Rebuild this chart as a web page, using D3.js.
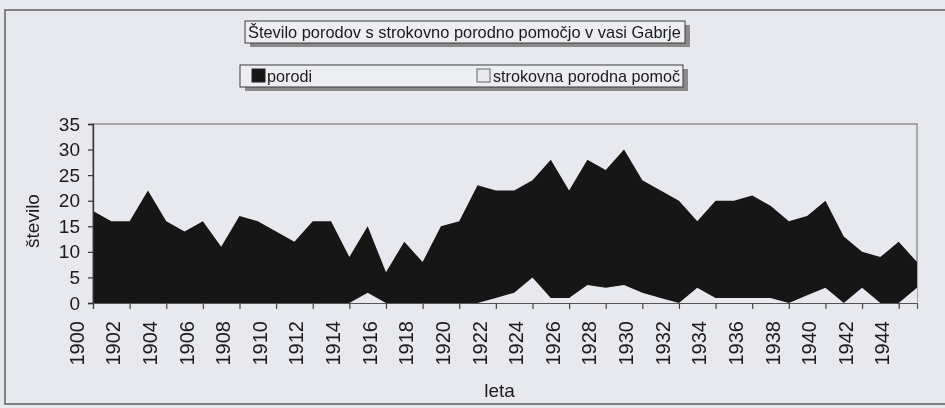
<!DOCTYPE html>
<html>
<head>
<meta charset="utf-8">
<script src="https://cdn.jsdelivr.net/npm/d3@7/dist/d3.min.js"></script>
<style>
  html, body { margin: 0; padding: 0; background: #e7e9ee; }
  svg { display: block; }
  text { font-family: "Liberation Sans", Arial, sans-serif; fill: #1a1a1a; }
</style>
</head>
<body>
<svg id="chart" width="945" height="408"></svg>
<script>
// Leta (categories)
const years = [1900, 1901, 1902, 1903, 1904, 1905, 1906, 1907, 1908, 1909,
               1910, 1911, 1912, 1913, 1914, 1915, 1916, 1917, 1918, 1919,
               1920, 1921, 1922, 1923, 1924, 1925, 1926, 1927, 1928, 1929,
               1930, 1931, 1932, 1933, 1934, 1935, 1936, 1937, 1938, 1939,
               1940, 1941, 1942, 1943, 1944, 1945];

// Število porodov na leto
const porodi = [18, 16, 16, 22, 16, 14, 16, 11, 17, 16,
                14, 12, 16, 16, 9, 15, 6, 12, 8, 15,
                16, 23, 22, 22, 24, 28, 22, 28, 26, 30,
                24, 22, 20, 16, 20, 20, 21, 19, 16, 17,
                20, 13, 10, 9, 12, 8];

// Porodi s strokovno porodno pomočjo
const strokovna = [0, 0, 0, 0, 0, 0, 0, 0, 0, 0,
                   0, 0, 0, 0, 0, 2, 0, 0, 0, 0,
                   0, 0, 1, 2, 5, 1, 1, 3.5, 3, 3.5,
                   2, 1, 0, 3, 1, 1, 1, 1, 0, 1.5,
                   3, 0, 3, 0, 0, 3];

// Oznake na oseh
const xTickYears = [1900, 1902, 1904, 1906, 1908, 1910, 1912, 1914, 1916, 1918, 1920,
                    1922, 1924, 1926, 1928, 1930, 1932, 1934, 1936, 1938, 1940, 1942, 1944];
const yTicks = [0, 5, 10, 15, 20, 25, 30, 35];

const titleText = "Število porodov s strokovno porodno pomočjo v vasi Gabrje";
const seriesNames = ["porodi", "strokovna porodna pomoč"];
const xTitle = "leta";
const yTitle = "število";

const BG = "#e7e9ee";
const DARK = "#141414";

const svg = d3.select("#chart");

// soft edges of a printed page
const defs = svg.append("defs");
defs.append("filter").attr("id", "soft")
  .append("feGaussianBlur").attr("stdDeviation", 0.55);

const root = svg.append("g").attr("filter", "url(#soft)");

root.append("rect").attr("x", 0).attr("y", 0).attr("width", 945).attr("height", 408).attr("fill", BG);

// outer frame of the figure
root.append("rect")
  .attr("x", 5).attr("y", 10).attr("width", 960).attr("height", 394)
  .attr("fill", "none").attr("stroke", "#6a6a6a").attr("stroke-width", 1.6);

const x = d3.scaleLinear().domain([1900, 1945]).range([93, 917]);
const y = d3.scaleLinear().domain([0, 35]).range([303, 124]);

// plot frame
root.append("rect")
  .attr("x", x(1900)).attr("y", y(35))
  .attr("width", x(1945) - x(1900)).attr("height", y(0) - y(35))
  .attr("fill", "none").attr("stroke", "#7d7d7d").attr("stroke-width", 1.2);

const area = (vals) => d3.area()
  .x((d, i) => x(years[i]))
  .y0(y(0))
  .y1((d) => y(d))(vals);

root.append("path").attr("d", area(porodi)).attr("fill", DARK);
root.append("path").attr("d", area(strokovna)).attr("fill", BG);

// y axis
const yAxis = root.append("g")
  .attr("transform", `translate(${x(1900)},0)`)
  .call(d3.axisLeft(y).tickValues(yTicks).tickSize(5).tickPadding(8));
yAxis.select(".domain").attr("stroke", "#333").attr("stroke-width", 1.3);
yAxis.selectAll(".tick line").attr("stroke", "#333").attr("stroke-width", 1.2);
yAxis.selectAll(".tick text")
  .style("font-family", "'Liberation Sans', Arial, sans-serif")
  .style("font-size", "19px").attr("fill", "#1a1a1a");

// x axis
const xAxis = root.append("g")
  .attr("transform", `translate(0,${y(0)})`)
  .call(d3.axisBottom(x).tickValues(xTickYears).tickSize(6).tickFormat(d3.format("d")));
xAxis.select(".domain").attr("stroke", "#555").attr("stroke-width", 1.2);
xAxis.selectAll(".tick line").attr("stroke", "#444").attr("stroke-width", 1.2);
xAxis.selectAll(".tick text")
  .style("font-family", "'Liberation Sans', Arial, sans-serif")
  .style("font-size", "20px").attr("fill", "#1a1a1a")
  .attr("text-anchor", "end")
  .attr("x", 0).attr("y", 0).attr("dy", "0.36em")
  .attr("transform", "translate(-17,18) rotate(-90)");

// axis titles
root.append("text")
  .attr("x", x(1922.2)).attr("y", 397)
  .attr("text-anchor", "middle")
  .style("font-size", "19px")
  .text(xTitle);

root.append("text")
  .attr("transform", "translate(39,221) rotate(-90)")
  .attr("text-anchor", "middle")
  .style("font-size", "19px")
  .text(yTitle);

// title box with shadow
function shadowBox(x0, y0, w, h) {
  root.append("rect").attr("x", x0 + 5).attr("y", y0 + 4).attr("width", w).attr("height", h)
    .attr("fill", "#8a8a8a");
  root.append("rect").attr("x", x0).attr("y", y0).attr("width", w).attr("height", h)
    .attr("fill", "#eceef2").attr("stroke", "#3a3a3a").attr("stroke-width", 1);
}

shadowBox(245, 21, 440, 22);
root.append("text").attr("x", 248).attr("y", 38).style("font-size", "16.4px").text(titleText);

// legend
shadowBox(240, 65, 443, 22);
root.append("rect").attr("x", 252).attr("y", 69).attr("width", 13).attr("height", 13)
  .attr("fill", DARK).attr("stroke", "#222");
root.append("text").attr("x", 267).attr("y", 82).style("font-size", "16.2px").text(seriesNames[0]);
root.append("rect").attr("x", 477).attr("y", 69).attr("width", 13).attr("height", 13)
  .attr("fill", BG).attr("stroke", "#666");
root.append("text").attr("x", 493).attr("y", 82).style("font-size", "16.2px").text(seriesNames[1]);
</script>
</body>
</html>
